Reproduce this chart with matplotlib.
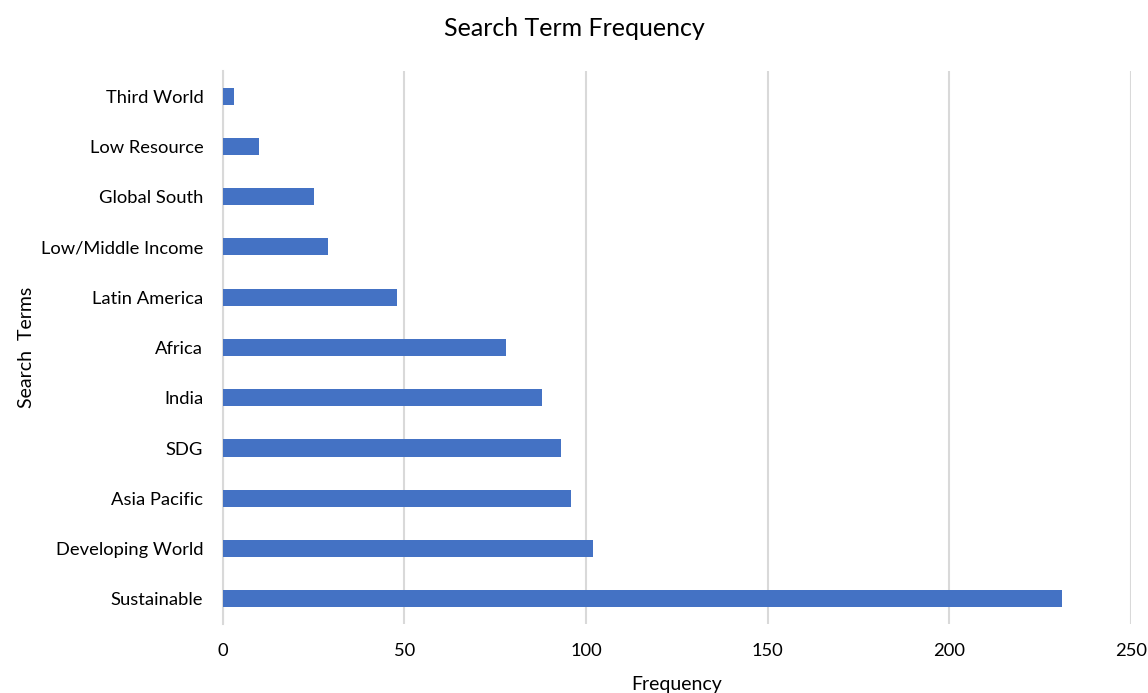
import matplotlib
matplotlib.use("Agg")
import matplotlib.pyplot as plt

terms = ["Sustainable", "Developing World", "Asia Pacific", "SDG", "India", "Africa",
         "Latin America", "Low/Middle Income", "Global South", "Low Resource", "Third World"]
frequency = [231, 102, 96, 93, 88, 78, 48, 29, 25, 10, 3]
xticks = [0, 50, 100, 150, 200, 250]

plt.rcParams['font.family'] = ['Lato', 'DejaVu Sans']

fig = plt.figure(figsize=(11.48, 6.93), dpi=100)
ax = fig.add_axes([0.194, 0.0996, 0.791, 0.798])

ax.barh(range(len(terms)), frequency, height=0.34, color="#4472C4", zorder=3)
ax.set_yticks(range(len(terms)))
ax.set_yticklabels(terms, fontsize=13.2)
ax.set_ylim(-0.5, len(terms) - 0.5)
ax.set_xlim(0, 250)
ax.set_xticks(xticks)
ax.set_xticklabels([str(t) for t in xticks], fontsize=13.2)
ax.xaxis.grid(True, color="#d9d9d9", linewidth=1.5, zorder=0)
for s in ["top", "right", "bottom"]:
    ax.spines[s].set_visible(False)
ax.spines["left"].set_color("#d9d9d9")
ax.spines["left"].set_linewidth(1.5)
ax.tick_params(axis="both", length=0)
ax.tick_params(axis="x", pad=14)
ax.tick_params(axis="y", pad=14)

ax.set_xlabel("Frequency", fontsize=14, labelpad=12)
ax.set_ylabel("Search  Terms", fontsize=14, labelpad=4)
fig.suptitle("Search Term Frequency", fontsize=18, y=0.975)

fig.savefig("out.png", dpi=100)
